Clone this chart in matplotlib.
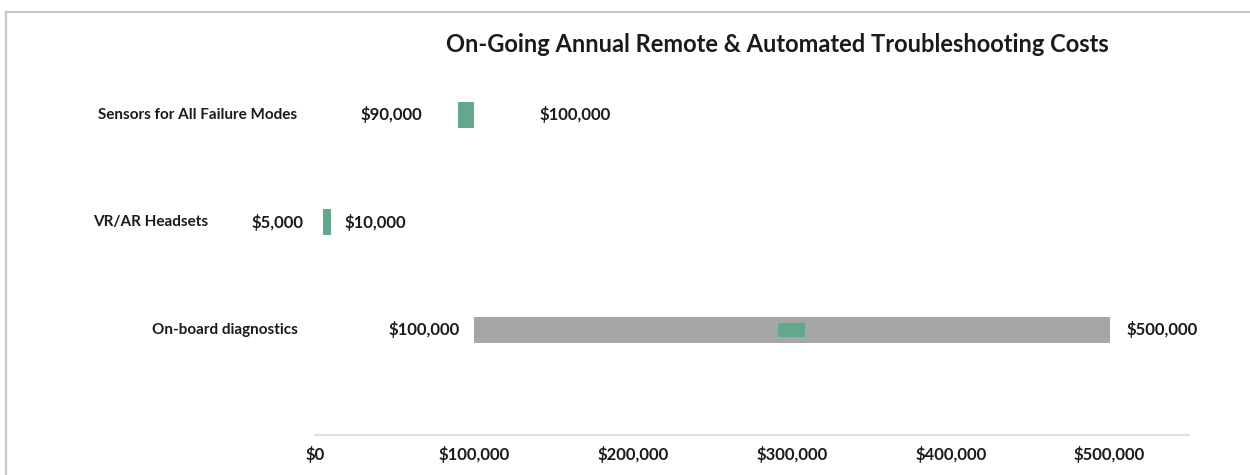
import matplotlib
matplotlib.use("Agg")
import matplotlib.pyplot as plt
from matplotlib.lines import Line2D
from matplotlib.ticker import FuncFormatter
import matplotlib.transforms as mtransforms

# ---- data ----
categories = ["On-board diagnostics", "VR/AR Headsets", "Sensors for All Failure Modes"]
low_values = [100000, 5000, 90000]
high_values = [500000, 10000, 100000]
marker_categories = ["On-board diagnostics"]
marker_values = [300000]
x_ticks = [0, 100000, 200000, 300000, 400000, 500000]
title = "On-Going Annual Remote & Automated Troubleshooting Costs"

# ---- styles ----
bar_colors = ["#a6a6a6", "#63a88b", "#63a88b"]
low_gap_pt = [10, 14, 26]     # gap between bar start and low label
high_gap_pt = [12, 10, 47]    # gap between bar end and high label
cat_x_px = [298, 93, 297]
cat_ha = ["right", "left", "right"]

plt.rcParams['font.family'] = ['Lato', 'DejaVu Sans']
W, H = 1250, 475
fig = plt.figure(figsize=(W / 100, H / 100), dpi=100)
fig.patch.set_facecolor("white")

left_px, right_px = 315, 1189
ax_bottom_px = 435
unit_px = 107.5
ypos = list(range(len(categories)))  # 0 bottom
ylo, yhi = -0.98, 2.5
ax_top_px = ax_bottom_px - (yhi - ylo) * unit_px
ax = fig.add_axes([left_px / W, 1 - ax_bottom_px / H,
                   (right_px - left_px) / W, (ax_bottom_px - ax_top_px) / H])
ax.set_xlim(0, 550000)
ax.set_ylim(ylo, yhi)

widths = [h - l for l, h in zip(low_values, high_values)]
ax.barh(ypos, widths, left=low_values, height=0.24, color=bar_colors,
        edgecolor="none", zorder=2)

marker_w = 17000
for cat, mv in zip(marker_categories, marker_values):
    yi = categories.index(cat)
    ax.barh([yi], [marker_w], left=[mv - marker_w / 2], height=0.13,
            color="#63a88b", edgecolor="none", zorder=3)

for i, (lo, hi) in enumerate(zip(low_values, high_values)):
    ax.annotate(f"${lo:,.0f}", (lo, i), xytext=(-low_gap_pt[i], 0),
                textcoords="offset points", ha="right", va="center",
                fontsize=12, fontweight="bold", color="#1a1a1a")
    ax.annotate(f"${hi:,.0f}", (hi, i), xytext=(high_gap_pt[i], 0),
                textcoords="offset points", ha="left", va="center",
                fontsize=12, fontweight="bold", color="#1a1a1a")

trans = mtransforms.blended_transform_factory(fig.transFigure, ax.transData)
for i, cat in enumerate(categories):
    ax.text(cat_x_px[i] / W, i, cat, transform=trans, ha=cat_ha[i], va="center",
            fontsize=11, fontweight="bold", color="#1a1a1a")

ax.set_xticks(x_ticks)
ax.xaxis.set_major_formatter(FuncFormatter(lambda v, p: f"${v:,.0f}"))
ax.tick_params(axis="x", length=0, pad=8, labelsize=12, labelcolor="#1a1a1a")
for lab in ax.get_xticklabels():
    lab.set_fontweight("bold")
ax.set_yticks([])
for s in ["top", "right", "left"]:
    ax.spines[s].set_visible(False)
ax.spines["bottom"].set_color("#d9d9d9")
ax.spines["bottom"].set_linewidth(1.2)

fig.text(777 / W, 1 - 44 / H, title, ha="center", va="center",
         fontsize=17, fontweight="bold", color="#1a1a1a")

# frame lines (top and left)
fig.add_artist(Line2D([6 / W, 1.0], [1 - 12 / H, 1 - 12 / H], transform=fig.transFigure,
                      color="#c8c8c8", lw=1.6))
fig.add_artist(Line2D([6 / W, 6 / W], [0, 1 - 12 / H], transform=fig.transFigure,
                      color="#c8c8c8", lw=1.6))

fig.savefig("out.png", dpi=100, facecolor="white")
